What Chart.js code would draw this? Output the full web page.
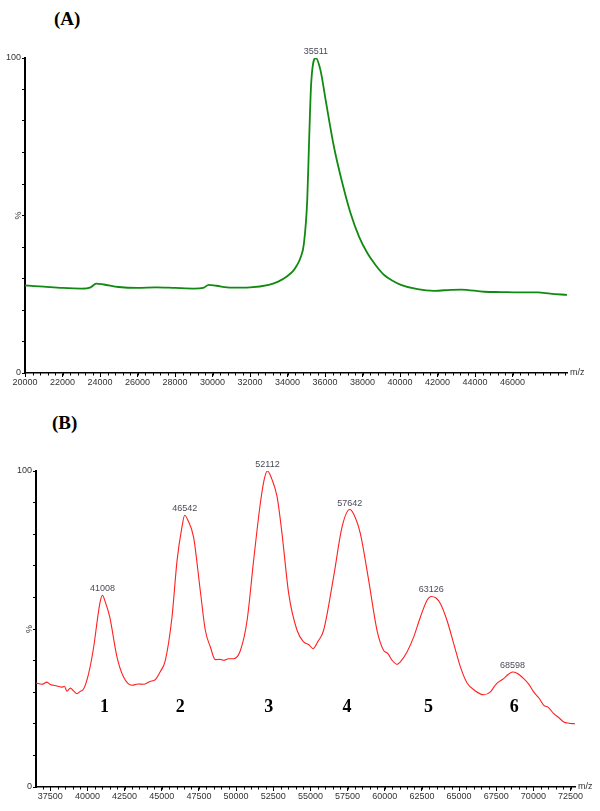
<!DOCTYPE html>
<html>
<head>
<meta charset="utf-8">
<script src="https://cdn.jsdelivr.net/npm/chart.js@4.4.0/dist/chart.umd.min.js"></script>
<style>
  html, body { margin: 0; padding: 0; background: #fff; }
  body { width: 600px; height: 811px; position: relative; overflow: hidden; }
  .panel { position: absolute; left: 0; width: 600px; }
  .tag { position: absolute; font: bold 19px "Liberation Serif", "Times New Roman", serif; color: #000; line-height: 22px; }
</style>
</head>
<body>
<div class="tag" style="left:54px; top:8px;">(A)</div>
<div class="tag" style="left:52px; top:412px;">(B)</div>
<div class="panel" style="top:0; height:400px;"><canvas id="chartA"></canvas></div>
<div class="panel" style="top:400px; height:411px;"><canvas id="chartB"></canvas></div>
<script>
// panel A: m/z and relative intensity (%)
const mzA = [20000, 21000, 22000, 23000, 23500, 23800, 24200, 25000, 26000, 27000, 28000, 29000, 29500, 29800, 30200,
  31000, 32000, 33000, 33500, 34000, 34300, 34500, 34690, 34870, 35050, 35140, 35260, 35511, 35760,
  36030, 36470, 36920, 37360, 37810, 38260, 38700, 39150, 39600, 40040, 40930, 41820, 42710, 43250, 44490, 45400,
  46280, 47350, 48000, 48900];
const pctA = [27.8, 27.4, 27.0, 26.8, 27.2, 28.4, 28.1, 27.3, 27.0, 27.2, 27.0, 26.8, 27.0, 28.0, 27.7,
  27.1, 27.2, 28.0, 29.0, 30.8, 32.4, 34.2, 36.6, 41.0, 55.0, 72.0, 92.0, 100, 96.0,
  86.7, 71.9, 60.3, 50.7, 43.3, 38.0, 34.2, 31.1, 29.3, 28.0, 26.6, 26.1, 26.4, 26.5, 25.8, 25.7,
  25.6, 25.6, 25.2, 24.8];
const tickLabelsA = [20000, 22000, 24000, 26000, 28000, 30000, 32000, 34000, 36000, 38000, 40000, 42000, 44000, 46000];
const peakMzA = [35511];
const peakPctA = [100];

// panel B
const mzB = [36540, 36940, 37280, 37500, 37730, 38000, 38290, 38450, 38620, 38850, 39050, 39300, 39500, 39750, 40080,
  40420, 40700, 40850, 41008, 41200, 41500, 41990, 42430, 43000, 43400, 43780, 44200, 44570, 44900, 45240, 45690,
  46030, 46360, 46542, 46750, 47140, 47590, 47930, 48270, 48600, 48900, 49170, 49500, 49840, 50290, 50740, 51180,
  51630, 51900, 52112, 52400, 52760, 53090, 53540, 54100, 54550, 54900, 55180, 55500, 55890, 56560, 57130, 57642,
  57900, 58360, 58920, 59480, 59930, 60200, 60500, 60830, 61050, 61500, 61950, 62400, 62850, 63126, 63450, 63750,
  64190, 64640, 65090, 65540, 66100, 66660, 67110, 67400, 67560, 68000, 68300, 68598, 68900, 69350, 69700, 70020,
  70400, 70700, 71000, 71370, 71700, 72040, 72400, 72800];
const pctB = [32.9, 32.5, 33.2, 32.4, 32.2, 31.9, 31.6, 31.9, 30.3, 31.3, 30.5, 29.5, 30.2, 31.1, 35.9,
  44.3, 54.0, 58.5, 60.7, 58.6, 53.8, 41.1, 34.8, 32.2, 32.6, 32.5, 33.4, 34.0, 36.5, 40.1, 53.8,
  71.7, 82.3, 86.0, 84.5, 79.1, 62.2, 49.6, 44.3, 40.3, 40.4, 40.1, 40.6, 40.6, 43.2, 52.7, 71.7,
  89.7, 97.5, 100, 97.5, 91.8, 80.2, 61.2, 49.6, 45.9, 45.0, 43.8, 46.0, 49.6, 66.5, 82.3, 87.8,
  86.5, 80.2, 65.4, 49.6, 43.2, 42.3, 40.1, 38.8, 39.6, 42.7, 47.5, 53.8, 59.1, 60.3, 59.8, 58.0,
  52.7, 45.4, 38.0, 32.9, 30.4, 29.2, 30.1, 32.0, 32.9, 34.3, 35.6, 36.4, 36.0, 34.3, 32.5, 30.1,
  28.0, 25.8, 25.2, 23.2, 22.0, 20.6, 20.2, 20.0];
const tickLabelsB = [37500, 40000, 42500, 45000, 47500, 50000, 52500, 55000, 57500, 60000, 62500, 65000, 67500, 70000, 72500];
const peakMzB = [41008, 46542, 52112, 57642, 63126, 68598];
const peakPctB = [60.7, 86.0, 100, 87.8, 60.3, 36.4];
const bandNames = ['1', '2', '3', '4', '5', '6'];
const bandMzB = [41150, 46250, 52190, 57470, 62950, 68720];

const tickFont = { family: '"Liberation Sans", Arial, sans-serif', size: 9 };

function points(xs, ys) {
  return xs.map((x, i) => ({ x: x, y: ys[i] }));
}

// extra drawing: minor ticks, m/z, rotated %, peak labels, band numbers
const decor = {
  id: 'decor',
  afterDraw(chart, args, o) {
    const ctx = chart.ctx, xs = chart.scales.x, ys = chart.scales.y, a = chart.chartArea;
    ctx.save();
    ctx.strokeStyle = '#000';
    ctx.lineWidth = 1;
    ctx.beginPath();
    for (let v = Math.ceil(xs.min / o.minorStep) * o.minorStep; v <= xs.max; v += o.minorStep) {
      const px = Math.round(xs.getPixelForValue(v)) + 0.5;
      ctx.moveTo(px, a.bottom);
      ctx.lineTo(px, a.bottom + 2.5);
    }
    ctx.stroke();

    ctx.fillStyle = '#333';
    ctx.font = '9px "Liberation Sans", Arial, sans-serif';
    ctx.textAlign = 'left';
    ctx.textBaseline = 'middle';
    ctx.fillText('m/z', a.right + 3, a.bottom);

    ctx.save();
    ctx.translate(a.left - 6, ys.getPixelForValue(50));
    ctx.rotate(-Math.PI / 2);
    ctx.textAlign = 'center';
    ctx.fillText('%', 0, 0);
    ctx.restore();

    ctx.fillStyle = '#4a4a58';
    ctx.textAlign = 'center';
    ctx.textBaseline = 'bottom';
    o.peakMz.forEach((m, i) => {
      ctx.fillText(String(m), xs.getPixelForValue(m), ys.getPixelForValue(o.peakPct[i]) - 2);
    });

    if (o.bandMz) {
      ctx.fillStyle = '#000';
      ctx.font = 'bold 18px "Liberation Serif", "Times New Roman", serif';
      ctx.textBaseline = 'middle';
      o.bandMz.forEach((m, i) => {
        ctx.fillText(o.bandNames[i], xs.getPixelForValue(m), ys.getPixelForValue(25.3));
      });
    }
    ctx.restore();
  }
};

function makeChart(id, data, color, width, cfg) {
  return new Chart(document.getElementById(id), {
    type: 'line',
    data: {
      datasets: [{
        data: data,
        borderColor: color,
        borderWidth: width,
        pointRadius: 0,
        fill: false,
        cubicInterpolationMode: 'monotone'
      }]
    },
    options: {
      responsive: true,
      maintainAspectRatio: false,
      animation: false,
      layout: { padding: { top: cfg.padTop, right: cfg.padRight, left: 0, bottom: 0 } },
      plugins: {
        legend: { display: false },
        tooltip: { enabled: false },
        decor: cfg.decor
      },
      scales: {
        x: {
          type: 'linear',
          min: cfg.min,
          max: cfg.max,
          afterBuildTicks: (scale) => { scale.ticks = cfg.ticks.map(v => ({ value: v })); },
          afterFit: (scale) => { scale.height = cfg.xHeight; },
          ticks: { autoSkip: false, maxRotation: 0, padding: 0, color: '#333', font: tickFont,
            callback: (v) => String(v) },
          grid: { display: true, drawOnChartArea: false, drawTicks: true, tickLength: 4, color: '#000' },
          border: { display: true, color: '#000', width: 1.5 }
        },
        y: {
          min: 0,
          max: 100,
          afterFit: (scale) => { scale.width = cfg.yWidth; },
          ticks: { stepSize: 10, autoSkip: false, padding: 1, color: '#333', font: tickFont,
            callback: (v) => (v === 0 || v === 100) ? String(v) : '' },
          grid: { display: true, drawOnChartArea: false, drawTicks: true, tickLength: 3, color: '#000' },
          border: { display: true, color: '#000', width: 2 }
        }
      }
    },
    plugins: [decor]
  });
}

makeChart('chartA', points(mzA, pctA), '#118a11', 1.8, {
  min: 20000, max: 48900, ticks: tickLabelsA,
  padTop: 58, padRight: 33, yWidth: 25, xHeight: 27,
  decor: { minorStep: 400, peakMz: peakMzA, peakPct: peakPctA }
});

makeChart('chartB', points(mzB, pctB), '#ff2020', 1.1, {
  min: 36540, max: 72800, ticks: tickLabelsB,
  padTop: 71, padRight: 25, yWidth: 36, xHeight: 24,
  decor: { minorStep: 500, peakMz: peakMzB, peakPct: peakPctB, bandMz: bandMzB, bandNames: bandNames }
});
</script>
</body>
</html>
